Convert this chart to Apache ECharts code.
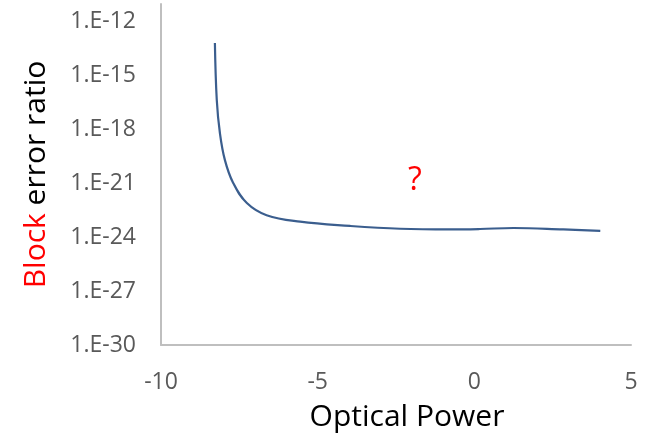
<!DOCTYPE html>
<html>
<head>
<meta charset="utf-8">
<script src="https://cdn.jsdelivr.net/npm/echarts@6/dist/echarts.min.js"></script>
<style>
  html, body { margin: 0; padding: 0; background: #fff; }
  #main { width: 653px; height: 438px; }
</style>
</head>
<body>
<div id="main"></div>
<script>
// optical power (x) and block error ratio (y)
var power = [-8.28, -8.22, -8.12, -7.96, -7.70, -7.26, -6.63, -5.56, -3.97, -2.37, -0.78, 0.18, 1.25, 2.84, 4.02];
var ratio = [6.8e-14, 4.5e-17, 6.5e-19, 2.0e-20, 1.1e-21, 8.1e-23, 1.7e-23, 7.4e-24, 4.3e-24, 3.0e-24, 2.75e-24, 2.9e-24, 3.3e-24, 2.75e-24, 2.3e-24];

var xTicks = [-10, -5, 0, 5];
// y axis is drawn on log10 scale: exponents of the tick labels
var yTicks = [-30, -27, -24, -21, -18, -15, -12];
var yTop = -11;

var points = [];
for (var i = 0; i < power.length; i++) {
  points.push([power[i], Math.log10(ratio[i])]);
}

var Chart = echarts.init(document.getElementById('main'));

var option = {
  animation: false,
  textStyle: { fontFamily: 'Open Sans' },
  grid: { left: 161, right: 22, top: 4, bottom: 93 },
  xAxis: {
    type: 'value',
    min: xTicks[0],
    max: xTicks[xTicks.length - 1],
    interval: 5,
    axisLine: { onZero: false, lineStyle: { color: '#bfbfbf', width: 2 } },
    axisTick: { show: false },
    splitLine: { show: false },
    axisLabel: { color: '#595959', fontSize: 23, margin: 26 },
    name: 'Optical Power',
    nameLocation: 'middle',
    nameGap: 57,
    nameTextStyle: { color: '#000', fontSize: 30, padding: [0, 0, 0, 22] }
  },
  yAxis: {
    type: 'value',
    min: yTicks[0],
    max: yTop,
    interval: 3,
    axisLine: { show: true, onZero: false, lineStyle: { color: '#bfbfbf', width: 2 } },
    axisTick: { show: false },
    splitLine: { show: false },
    axisLabel: {
      color: '#595959',
      fontSize: 23,
      margin: 25,
      formatter: function (v) {
        if (yTicks.indexOf(v) < 0) return '';
        return '1.E' + v;
      }
    },
    name: '{r|Block} error ratio',
    nameLocation: 'middle',
    nameGap: 110,
    nameRotate: 90,
    nameTextStyle: {
      color: '#000',
      fontSize: 30,
      rich: { r: { color: '#ff0000', fontSize: 30 } }
    }
  },
  series: [{
    type: 'line',
    data: points,
    smooth: 0.4,
    showSymbol: false,
    lineStyle: { color: '#3b5e8e', width: 2.2 }
  }],
  graphic: [{
    type: 'text',
    left: 408,
    top: 165,
    style: { text: '?', fill: '#ff0000', fontSize: 32, fontFamily: 'Open Sans' }
  }]
};

Chart.setOption(option);
</script>
</body>
</html>
